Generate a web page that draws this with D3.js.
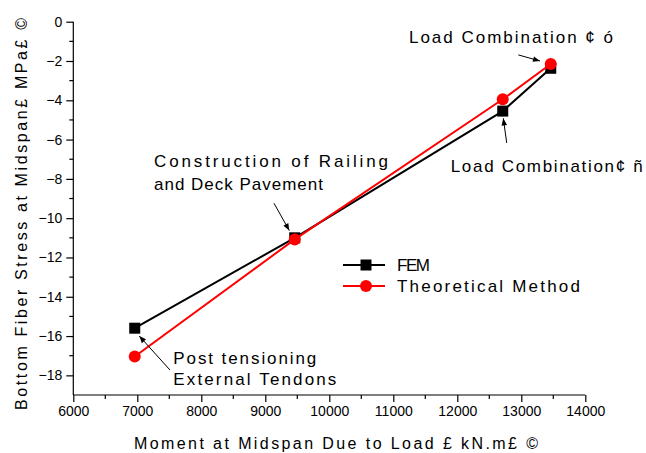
<!DOCTYPE html>
<html>
<head>
<meta charset="utf-8">
<script src="https://cdn.jsdelivr.net/npm/d3@7"></script>
<style>
  body { margin: 0; background: #fff; }
  svg { display: block; font-family: "Liberation Sans", Arial, sans-serif; }
</style>
</head>
<body>
<svg id="chart" width="646" height="453"></svg>
<script>
// values
var moment = [6960, 9460, 12710, 13460];
var femStress = [-15.6, -11.0, -4.55, -2.37];
var theoStress = [-17.04, -11.08, -3.95, -2.15];

var xTicks = [6000, 7000, 8000, 9000, 10000, 11000, 12000, 13000, 14000];
var yTicks = [0, -2, -4, -6, -8, -10, -12, -14, -16, -18];

// annotation texts: [x, y, text, pixel length]
var noteLines = [
    [11245, -1.07, "Load Combination ¢ ó", 204],
    [11897, -7.63, "Load Combination¢ ñ", 192],
    [7261, -7.41, "Construction of Railing", 234],
    [7261, -8.56, "and Deck Pavement", 169],
    [7563, -17.42, "Post tensioning", 143],
    [7563, -18.49, "External Tendons", 163]
];
// arrows: tail x, tail y, head x, head y
var arrows = [
    [12953, -1.69, 13292, -2.0],
    [12772, -6.17, 12719, -4.92],
    [9136, -9.24, 9375, -10.63],
    [7511, -17.73, 7031, -16.0]
];

var svg = d3.select("#chart");

var x = d3.scaleLinear().domain([6000, 14000]).range([73.3, 585.3]);
var y = d3.scaleLinear().domain([-19, 0]).range([395, 21.7]);

// minor ticks
var xMinor = d3.range(6500, 14000, 1000);
var yMinor = d3.range(-1, -19, -2);

var xAxis = svg.append("g")
    .attr("transform", "translate(0," + y(-19) + ")")
    .call(d3.axisBottom(x).tickValues(xTicks).tickSize(7).tickPadding(4).tickFormat(d3.format("d")));
svg.append("g")
    .attr("transform", "translate(0," + y(-19) + ")")
    .selectAll("line").data(xMinor).enter().append("line")
    .attr("x1", function (d) { return x(d); })
    .attr("x2", function (d) { return x(d); })
    .attr("y1", 0).attr("y2", 4)
    .attr("stroke", "#000").attr("stroke-width", 1.2);

var yAxis = svg.append("g")
    .attr("transform", "translate(" + x(6000) + ",0)")
    .call(d3.axisLeft(y).tickValues(yTicks).tickSize(7).tickPadding(4));
svg.append("g")
    .attr("transform", "translate(" + x(6000) + ",0)")
    .selectAll("line").data(yMinor).enter().append("line")
    .attr("y1", function (d) { return y(d); })
    .attr("y2", function (d) { return y(d); })
    .attr("x1", 0).attr("x2", -4)
    .attr("stroke", "#000").attr("stroke-width", 1.2);

svg.selectAll(".domain").attr("stroke", "#000").attr("stroke-width", 1.2);
svg.selectAll(".tick line").attr("stroke", "#000").attr("stroke-width", 1.2);
svg.selectAll(".tick text")
    .attr("font-family", "Liberation Sans, Arial, sans-serif")
    .attr("font-size", 14)
    .attr("fill", "#000");
yAxis.selectAll(".domain").attr("d", "M-0," + y(-19) + "V" + y(0));
xAxis.selectAll(".domain").attr("d", "M" + x(6000) + ",0H" + x(14000));

// axis titles
svg.append("text")
    .attr("x", 134).attr("y", 448.5)
    .attr("font-size", 16)
    .attr("textLength", 404).attr("lengthAdjust", "spacing")
    .text("Moment at Midspan Due to Load £ kN.m£ ©");

svg.append("text")
    .attr("transform", "translate(27,410) rotate(-90)")
    .attr("font-size", 16)
    .attr("textLength", 392).attr("lengthAdjust", "spacing")
    .text("Bottom Fiber Stress at Midspan£ MPa£ ©");

// series
var pts = function (vals) { return moment.map(function (m, i) { return [m, vals[i]]; }); };
var line = d3.line().x(function (d) { return x(d[0]); }).y(function (d) { return y(d[1]); });

svg.append("path").datum(pts(femStress))
    .attr("d", line).attr("fill", "none").attr("stroke", "#000").attr("stroke-width", 2);
svg.selectAll(".fem").data(pts(femStress)).enter().append("rect")
    .attr("class", "fem")
    .attr("x", function (d) { return x(d[0]) - 5.5; })
    .attr("y", function (d) { return y(d[1]) - 5.5; })
    .attr("width", 11).attr("height", 11).attr("fill", "#000");

svg.append("path").datum(pts(theoStress))
    .attr("d", line).attr("fill", "none").attr("stroke", "#ff0000").attr("stroke-width", 2);
svg.selectAll(".theo").data(pts(theoStress)).enter().append("circle")
    .attr("class", "theo")
    .attr("cx", function (d) { return x(d[0]); })
    .attr("cy", function (d) { return y(d[1]); })
    .attr("r", 6).attr("fill", "#ff0000");

// annotations
svg.append("defs").append("marker")
    .attr("id", "head").attr("viewBox", "0 0 10 10")
    .attr("refX", 10).attr("refY", 5)
    .attr("markerWidth", 9).attr("markerHeight", 7)
    .attr("markerUnits", "userSpaceOnUse")
    .attr("orient", "auto")
    .append("path").attr("d", "M0,1 L10,5 L0,9 Z").attr("fill", "#000");

svg.selectAll(".arrow").data(arrows).enter().append("line")
    .attr("class", "arrow")
    .attr("x1", function (d) { return x(d[0]); })
    .attr("y1", function (d) { return y(d[1]); })
    .attr("x2", function (d) { return x(d[2]); })
    .attr("y2", function (d) { return y(d[3]); })
    .attr("stroke", "#000").attr("stroke-width", 1)
    .attr("marker-end", "url(#head)");

svg.selectAll(".note").data(noteLines).enter().append("text")
    .attr("class", "note")
    .attr("x", function (d) { return x(d[0]); })
    .attr("y", function (d) { return y(d[1]); })
    .attr("font-size", 17)
    .attr("textLength", function (d) { return d[3]; })
    .attr("lengthAdjust", "spacing")
    .text(function (d) { return d[2]; });

// legend
var legend = svg.append("g");
legend.append("line").attr("x1", 343).attr("x2", 385).attr("y1", 265).attr("y2", 265)
    .attr("stroke", "#000").attr("stroke-width", 2);
legend.append("rect").attr("x", 360.5).attr("y", 259.5).attr("width", 11).attr("height", 11).attr("fill", "#000");
legend.append("text").attr("x", 397).attr("y", 271).attr("font-size", 17)
    .attr("textLength", 33).attr("lengthAdjust", "spacing").text("FEM");
legend.append("line").attr("x1", 343).attr("x2", 385).attr("y1", 286).attr("y2", 286)
    .attr("stroke", "#ff0000").attr("stroke-width", 2);
legend.append("circle").attr("cx", 366).attr("cy", 286).attr("r", 6).attr("fill", "#ff0000");
legend.append("text").attr("x", 397).attr("y", 292).attr("font-size", 17)
    .attr("textLength", 183).attr("lengthAdjust", "spacing").text("Theoretical Method");
</script>
</body>
</html>
